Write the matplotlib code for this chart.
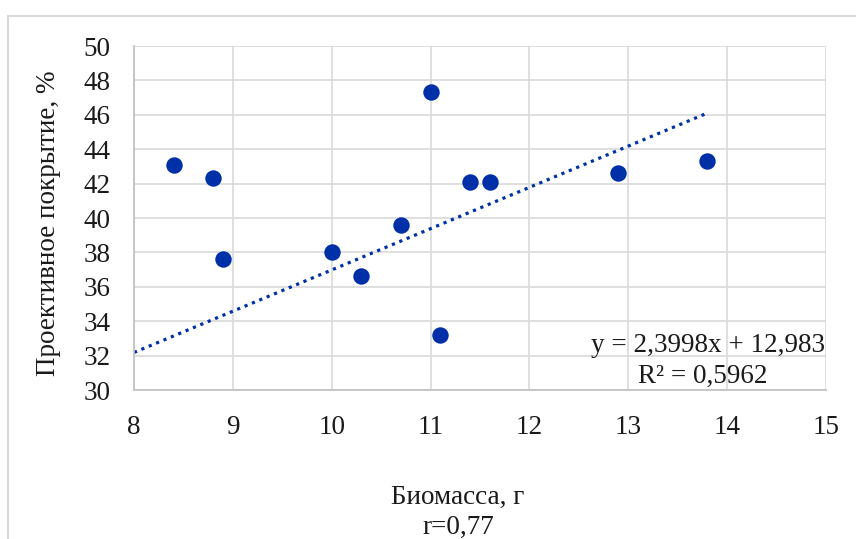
import matplotlib
matplotlib.use("Agg")
import matplotlib.pyplot as plt
import numpy as np
from matplotlib.patches import Rectangle

biomass = [8.4, 8.8, 8.9, 10.0, 10.3, 10.7, 11.0, 11.1, 11.4, 11.6, 12.9, 13.8]
coverage = [43.1, 42.3, 37.6, 38.0, 36.6, 39.6, 47.3, 33.2, 42.1, 42.1, 42.6, 43.3]
slope = 2.3998
intercept = 12.983
r2_text = "R² = 0,5962"
eq_text = "y = 2,3998x + 12,983"
x_ticks = [8, 9, 10, 11, 12, 13, 14, 15]
y_ticks = [30, 32, 34, 36, 38, 40, 42, 44, 46, 48, 50]

plt.rcParams['font.family'] = ['Liberation Serif', 'DejaVu Serif']

W, H = 856, 539
FS = 19.5
TC = '#1a1a1a'
fig = plt.figure(figsize=(W / 100, H / 100), dpi=100)
fig.patch.set_facecolor('white')

# outer chart border
fig.patches.append(Rectangle((8 / W, -0.1), 1.2, 1 - 16 / H + 0.1, transform=fig.transFigure,
                             fill=False, edgecolor='#d9d9d9', linewidth=1.5))

ax = fig.add_axes([134 / W, 1 - 390 / H, (826 - 134) / W, (390 - 46) / H])
color = '#0030a8'

ax.scatter(biomass, coverage, s=140, color=color, zorder=3, linewidths=0)
xt = np.array([8.0, max(biomass)])
ax.plot(xt, slope * xt + intercept, linestyle=(0, (1, 1.5)), color=color, linewidth=2.3, zorder=2)

ax.set_xlim(8, 15)
ax.set_ylim(30, 50)
ax.set_xticks(x_ticks)
ax.set_yticks(y_ticks)
ax.set_xticklabels([str(t) for t in x_ticks])
ax.set_yticklabels([str(t) for t in y_ticks])
ax.tick_params(axis='both', length=0, labelsize=FS, colors=TC)
ax.tick_params(axis='x', pad=18)
ax.tick_params(axis='y', pad=17)
ax.grid(True, color='#d9d9d9', linewidth=1.2)
ax.set_axisbelow(True)
for side in ['top', 'right']:
    ax.spines[side].set_visible(False)
for side in ['left', 'bottom']:
    ax.spines[side].set_color('#bfbfbf')
    ax.spines[side].set_linewidth(1.2)

ax.text(0.999, 0.128, eq_text, transform=ax.transAxes, ha='right', va='center', fontsize=FS, color=TC)
ax.text(0.822, 0.04, r2_text, transform=ax.transAxes, ha='center', va='center', fontsize=FS, color=TC)

fig.text(49 / W, 1 - 223 / H, "Проективное покрытие, %", rotation=90, ha='center', va='center',
         fontsize=FS, color=TC)
fig.text(458 / W, 1 - 497 / H, "Биомасса, г", ha='center', va='center', fontsize=FS, color=TC)
fig.text(458 / W, 1 - 527 / H, "r=0,77", ha='center', va='center', fontsize=FS, color=TC)

fig.savefig('out.png', dpi=100)
